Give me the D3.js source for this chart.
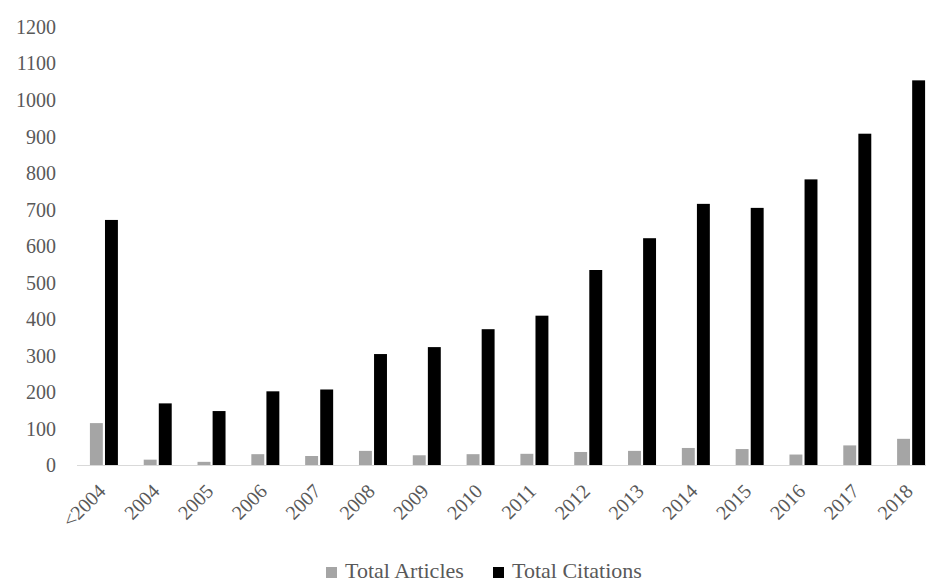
<!DOCTYPE html>
<html>
<head>
<meta charset="utf-8">
<script src="https://cdn.jsdelivr.net/npm/d3@7"></script>
</head>
<body style="margin:0;background:#fff">
<svg id="chart" width="926" height="582" style="display:block"></svg>
<script>
// Publication years and totals per year
const years = ["<2004", "2004", "2005", "2006", "2007", "2008", "2009", "2010",
               "2011", "2012", "2013", "2014", "2015", "2016", "2017", "2018"];
const totalArticles = [116, 16, 10, 31, 26, 40, 28, 31, 32, 37, 40, 48, 45, 30, 55, 73];
const totalCitations = [672, 170, 149, 203, 208, 305, 324, 373, 410, 535, 622, 716, 705, 783, 908, 1054];
const yTicks = [0, 100, 200, 300, 400, 500, 600, 700, 800, 900, 1000, 1100, 1200];
const seriesNames = ["Total Articles", "Total Citations"];
const seriesColors = ["#a5a5a5", "#000000"];

const FONT = '"Liberation Serif"';
const TEXT_COLOR = "#595959";

const svg = d3.select("#chart");
const plotLeft = 77, plotRight = 938, plotTop = 27, plotBottom = 465.5;

const x = d3.scaleBand().domain(years).range([plotLeft, plotRight]).paddingInner(0).paddingOuter(0);
const y = d3.scaleLinear().domain([0, 1200]).range([plotBottom, plotTop]);

const barW = 12, gap = 4;
const inner = d3.scaleBand().domain(seriesNames)
  .range([x.bandwidth() / 2 - barW - gap / 2, x.bandwidth() / 2 + barW + gap / 2])
  .paddingInner(gap / (2 * barW + gap));

const rows = years.map((yr, i) => ({ year: yr, values: [totalArticles[i], totalCitations[i]] }));

const groups = svg.append("g").selectAll("g")
  .data(rows).join("g")
  .attr("transform", d => `translate(${x(d.year)},0)`);

groups.selectAll("rect")
  .data(d => d.values.map((v, k) => ({ v, k })))
  .join("rect")
  .attr("x", d => inner(seriesNames[d.k]))
  .attr("width", inner.bandwidth())
  .attr("y", d => y(d.v))
  .attr("height", d => y(0) - y(d.v))
  .attr("fill", d => seriesColors[d.k]);

// Category axis line
svg.append("line")
  .attr("x1", plotLeft).attr("x2", 926)
  .attr("y1", plotBottom).attr("y2", plotBottom)
  .attr("stroke", "#d9d9d9").attr("stroke-width", 1.2);

// Value axis labels
const yAxis = d3.axisLeft(y).tickValues(yTicks).tickFormat(d3.format("d")).tickSize(0).tickPadding(0);
const yg = svg.append("g").attr("transform", "translate(56,0)").call(yAxis);
yg.select(".domain").remove();
yg.selectAll("text")
  .style("font-family", FONT).attr("font-size", 20)
  .attr("fill", TEXT_COLOR).attr("dy", "0.32em");

// Rotated year labels
const xAxis = d3.axisBottom(x).tickSize(0).tickPadding(0);
const xg = svg.append("g").attr("transform", `translate(0,${plotBottom})`).call(xAxis);
xg.select(".domain").remove();
xg.selectAll("text")
  .style("font-family", FONT).attr("font-size", 20)
  .attr("fill", TEXT_COLOR)
  .attr("text-anchor", "end")
  .attr("dy", null)
  .attr("transform", "translate(3,27) rotate(-45)")
  .attr("y", 0).attr("x", 0);

// Legend
const legendItems = [
  { name: seriesNames[0], color: seriesColors[0], x: 326 },
  { name: seriesNames[1], color: seriesColors[1], x: 493 }
];
const lg = svg.append("g").selectAll("g").data(legendItems).join("g")
  .attr("transform", d => `translate(${d.x},567)`);
lg.append("rect").attr("width", 11).attr("height", 11).attr("fill", d => d.color);
lg.append("text").attr("x", 19).attr("y", 11)
  .style("font-family", FONT).attr("font-size", 22)
  .attr("fill", TEXT_COLOR).text(d => d.name);
</script>
</body>
</html>
